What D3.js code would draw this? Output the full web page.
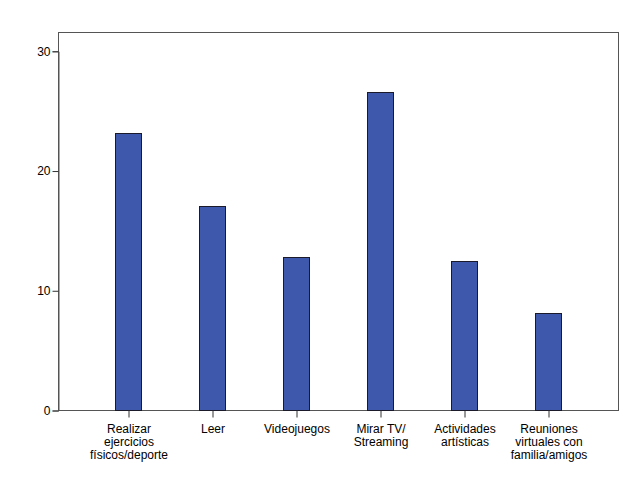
<!DOCTYPE html>
<html><head><meta charset="utf-8">
<script src="https://cdn.jsdelivr.net/npm/d3@7"></script>
<style>body{margin:0;background:#fff}svg{display:block}text{font-family:"Liberation Sans",Arial,sans-serif;font-size:12px;fill:#000}</style>
</head><body><svg id="c" width="626" height="501"></svg>
<script>
const categories = [
  ["Realizar","ejercicios","físicos/deporte"],
  ["Leer"],
  ["Videojuegos"],
  ["Mirar TV/","Streaming"],
  ["Actividades","artísticas"],
  ["Reuniones","virtuales con","familia/amigos"]
];
const values = [23.15, 17.05, 12.75, 26.6, 12.45, 8.1];
const yTicks = [0, 10, 20, 30];

const svg = d3.select("#c");
const frame = {l:58, r:618, t:32, b:410};
const x = d3.scalePoint().domain(d3.range(categories.length)).range([128, 548]);
const y = d3.scaleLinear().domain([0, 30]).range([410, 50.8]);
const bw = 26;

// frame
svg.append("rect").attr("x",frame.l+0.5).attr("y",frame.t+0.5)
  .attr("width",frame.r-frame.l).attr("height",frame.b-frame.t)
  .attr("fill","none").attr("stroke","#555").attr("stroke-width",1);

// bars
svg.selectAll("rect.bar").data(values).join("rect").attr("class","bar")
  .attr("x",(d,i)=>Math.round(x(i)-bw/2)+0.5)
  .attr("y",d=>Math.round(y(d))+0.5)
  .attr("width",bw)
  .attr("height",d=>y(0)-Math.round(y(d)))
  .attr("fill","#3e58ab").attr("stroke","#1a1a2a").attr("stroke-width",1);

// y axis
const ya = svg.append("g").attr("transform",`translate(${frame.l+0.5},0.5)`)
  .call(d3.axisLeft(y).tickValues(yTicks).tickSize(6).tickPadding(2).tickFormat(d3.format("d")));
ya.select(".domain").attr("stroke","#555");
ya.selectAll(".tick line").attr("stroke","#333");
ya.selectAll("text").style("font-size","12px").attr("fill","#000");

// x axis
const xa = svg.append("g").attr("transform",`translate(0.5,${frame.b+0.5})`)
  .call(d3.axisBottom(x).tickSize(7).tickFormat(""));
xa.select(".domain").remove();
xa.selectAll(".tick line").attr("stroke","#333");
xa.selectAll(".tick").each(function(d){
  const t = d3.select(this).append("text").attr("text-anchor","middle").attr("fill","#000");
  categories[d].forEach((s,j)=>t.append("tspan").attr("x",0).attr("y",22+j*13).text(s));
});
</script></body></html>
